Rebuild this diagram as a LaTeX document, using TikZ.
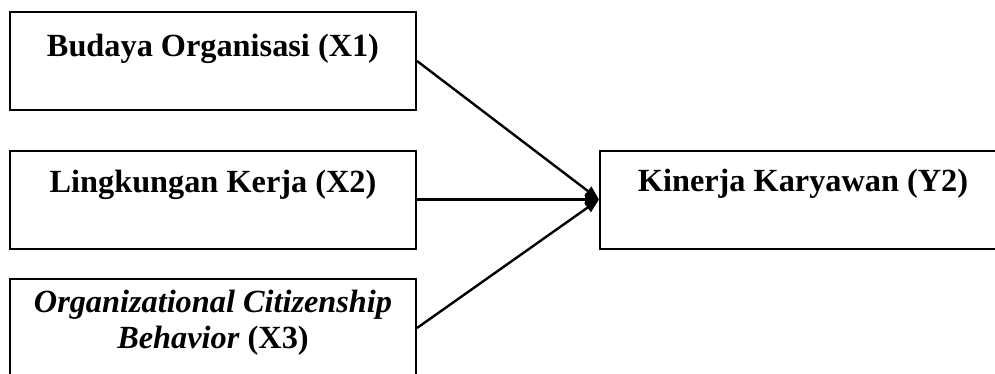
\documentclass[tikz,border=0pt]{standalone}
\usepackage{fontspec}
\setmainfont{Liberation Serif}
\usetikzlibrary{positioning,calc,arrows.meta}

\begin{document}
\begin{tikzpicture}[x=0.5pt,y=-0.5pt,
		varbox/.style={draw=black,line width=1pt,minimum width=203pt,minimum height=49pt,inner sep=0pt},
		varlbl/.style={inner sep=0pt,font=\fontsize{16.15}{18}\selectfont\bfseries,align=center},
		path/.style={line width=1.2pt,-{Triangle[length=7pt,width=5.5pt]}}]
		\useasboundingbox (0,0) rectangle (995,374);
		% variabel bebas
		\node [varbox] (x1) at (213,61) {};
		\node [varbox] (x2) at (213,199.5) {};
		\node [varbox] (x3) at (213,328) {};
		% variabel terikat
		\node [varbox] (y2) at (803,199.5) {};
		\node [varlbl,anchor=base] (t1) at ($(x1.north)+(0,46)$) {Budaya Organisasi (X1)};
		\node [varlbl,anchor=base] (t2) at ($(x2.north)+(0,43)$) {Lingkungan Kerja (X2)};
		\node [varlbl,anchor=base] (t3) at ($(x3.north)+(0,70)$) {\textit{Organizational Citizenship}\\\textit{Behavior} (X3)};
		\node [varlbl,anchor=base] (t4) at ($(y2.north)+(0,42)$) {Kinerja Karyawan (Y2)};
		\draw [path] (x1.east) -- (y2.west);
		\draw [path] (x2.east) -- (y2.west);
		\draw [path] (x3.east) -- (y2.west);
\end{tikzpicture}
\end{document}
